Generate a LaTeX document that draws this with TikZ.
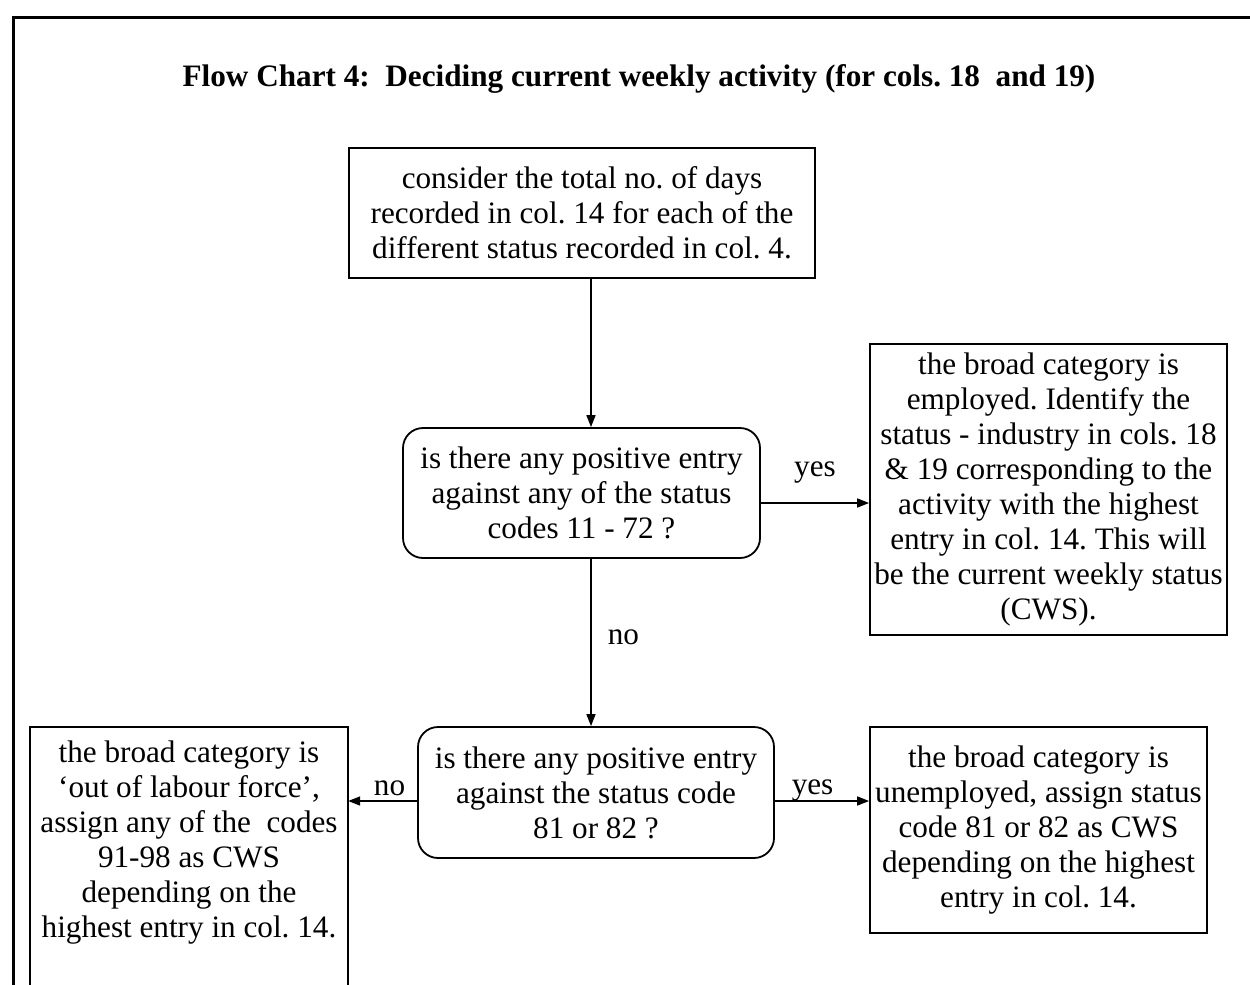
\documentclass[tikz,border=0pt]{standalone}
\usepackage{fontspec}
\setmainfont{Liberation Serif}
\usetikzlibrary{arrows.meta,calc}
\frenchspacing
\begin{document}
\begin{tikzpicture}[x=1pt,y=-1pt,
  txt/.style={font=\fontsize{31.2pt}{35pt}\selectfont, align=center, inner sep=0pt},
  sqbox/.style={txt, draw, line width=1.8pt, rectangle},
  rbox/.style={txt, draw, line width=1.8pt, rounded corners=20pt},
  boxline/.style={line width=1.8pt},
  arr/.style={line width=1.6pt, -{Triangle[length=12pt,width=9pt]}},
  lbl/.style={font=\fontsize{31.2pt}{35pt}\selectfont, inner sep=0pt}]
\useasboundingbox (0,0) rectangle (1250,985);
\clip (0,0) rectangle (1250,985);
% outer frame
\draw[line width=3pt] (13,995) -- (13,17) -- (1260,17);
% title
\node[font=\bfseries\fontsize{31.2pt}{35pt}\selectfont, inner sep=0pt] (title) at (639,79)
  {Flow Chart 4:\ \ Deciding current weekly activity (for cols. 18\ \ and 19)};
% boxes
\node[sqbox, minimum width=466pt, minimum height=130pt] (b1) at (582,213)
  {consider the total no. of days\\recorded in col. 14 for each of the\\different status recorded in col. 4.};
\node[rbox, minimum width=357pt, minimum height=130pt] (b2) at (581.5,493)
  {is there any positive entry\\against any of the status\\codes 11 - 72 ?};
\node[sqbox, minimum width=357pt, minimum height=291pt] (r1) at (1048.5,489.5)
  {the broad category is\\employed. Identify the\\status - industry in cols. 18\\\& 19 corresponding to the\\activity with the highest\\entry in col. 14. This will\\be the current weekly status\\(CWS).};
\node[rbox, minimum width=356pt, minimum height=131pt] (b3) at (596,792.5)
  {is there any positive entry\\against the status code\\81 or 82 ?};
\node[sqbox, minimum width=337pt, minimum height=206pt] (r2) at (1038.5,830)
  {the broad category is\\unemployed, assign status\\code 81 or 82 as CWS\\depending on the highest\\entry in col. 14.};
\node[txt, minimum width=318pt, anchor=north, inner ysep=14pt] (lb) at (189,727)
  {the broad category is\\‘out of labour force’,\\assign any of the\ \ codes\\91-98 as CWS\\depending on the\\highest entry in col. 14.};
\draw[boxline] (lb.north west) rectangle ([yshift=-300pt]lb.south east);
% helper coordinates for connector positions
\coordinate (ax) at (591,0);
\coordinate (ay1) at (0,503);
\coordinate (ay2) at (0,801);
% connectors
\draw[arr] (b1.south -| ax) -- (b2.north -| ax);
\draw[arr] (b2.east |- ay1) -- (r1.west |- ay1) node[lbl, midway, above=19pt] {yes};
\draw[arr] (b2.south -| ax) -- (b3.north -| ax) node[lbl, pos=0.47, right=16pt] {no};
\draw[arr] (b3.west |- ay2) -- (lb.east |- ay2) node[lbl, pos=0.4, above=4pt] {no};
\draw[arr] (b3.east |- ay2) -- (r2.west |- ay2) node[lbl, pos=0.4, above=-1pt] {yes};
\end{tikzpicture}
\end{document}
